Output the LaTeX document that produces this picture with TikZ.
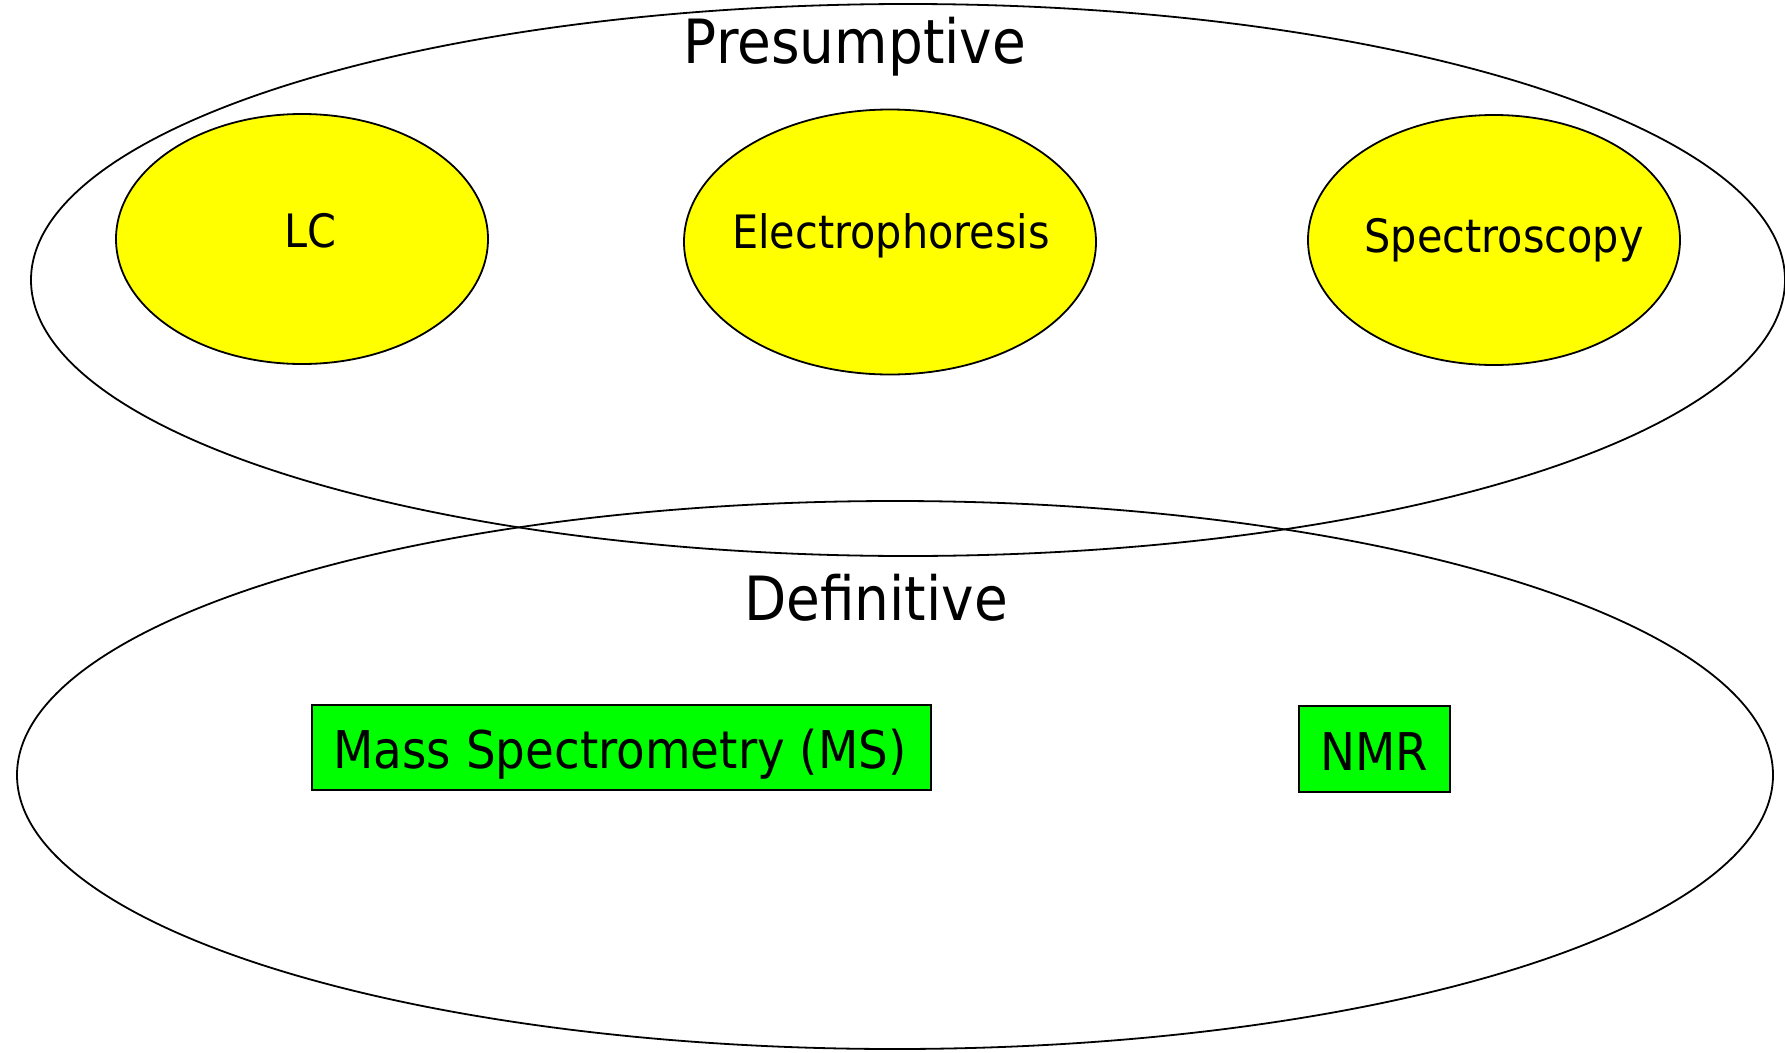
\documentclass[tikz,border=0pt]{standalone}
\usepackage{fontspec}
\setmainfont{DejaVu Sans}[FakeStretch=0.9]
\usetikzlibrary{shapes.geometric}
\definecolor{ovalyellow}{HTML}{FFFF00}
\definecolor{boxgreen}{HTML}{00FF00}
\begin{document}
\begin{tikzpicture}[x=1pt,y=-1pt,
  bigoval/.style={draw=black,line width=1.8pt,ellipse,inner sep=0pt},
  yoval/.style={draw=black,fill=ovalyellow,line width=1.8pt,ellipse,inner sep=0pt},
  gbox/.style={draw=black,fill=boxgreen,line width=1.8pt,rectangle,inner sep=0pt},
  title/.style={anchor=base,inner sep=0pt,font=\fontsize{61}{61}\selectfont},
  otext/.style={anchor=base,inner sep=0pt,font=\fontsize{46}{46}\selectfont},
  btext/.style={anchor=base,inner sep=0pt,font=\fontsize{52}{52}\selectfont}]
\useasboundingbox (0,0) rectangle (1785,1052);
\node[bigoval,minimum width=1754pt,minimum height=552pt] (pres) at (908,280) {};
\node[bigoval,minimum width=1756pt,minimum height=548pt] (defi) at (895,775) {};
\node[yoval,minimum width=372pt,minimum height=250pt] (lc) at (302,239) {};
\node[yoval,minimum width=412pt,minimum height=265pt] (ep) at (890,242) {};
\node[yoval,minimum width=372pt,minimum height=250pt] (sp) at (1494,240) {};
\node[gbox,minimum width=619pt,minimum height=85pt] (ms) at (621.5,747.5) {};
\node[gbox,minimum width=151pt,minimum height=86pt] (nmr) at (1374.5,749) {};
\node[title] (prest) at (855,63) {Presumptive};
\node[title] (defit) at (876,620) {Definitive};
\node[otext] (lct) at (310,247) {LC};
\node[otext] (ept) at (891,248) {Electrophoresis};
\node[otext] (spt) at (1504,252) {Spectroscopy};
\node[btext] (mst) at (620,768) {Mass Spectrometry (MS)};
\node[btext] (nmrt) at (1374,770) {NMR};
\end{tikzpicture}
\end{document}
